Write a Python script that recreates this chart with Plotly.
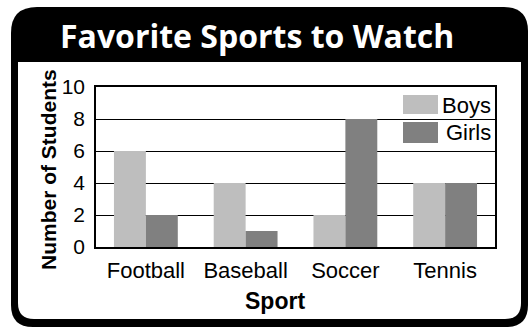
import plotly.graph_objects as go

categories = ["Football", "Baseball", "Soccer", "Tennis"]
boys = [6, 4, 2, 4]
girls = [2, 1, 8, 4]
series_names = ["Boys", "Girls"]
y_ticks = [0, 2, 4, 6, 8, 10]

BOYS_COLOR = "#bebebe"
GIRLS_COLOR = "#808080"
NARROW = "Liberation Sans Narrow, Liberation Sans, Arial, sans-serif"
TITLE_FONT = "Open Sans, Noto Sans, DejaVu Sans, sans-serif"

W, H = 528, 330
ML, MR, MT, MB = 96, 33, 87, 83
PW, PH = W - ML - MR, H - MT - MB


def X(px):
    return (px - ML) / PW


def Y(py):
    return (H - MB - py) / PH


def rrect(x0, y0, x1, y1, rtl, rtr, rbr, rbl):
    pts = []
    pts.append(f"M{X(x0 + rtl)},{Y(y0)}")
    pts.append(f"L{X(x1 - rtr)},{Y(y0)}")
    if rtr:
        pts.append(f"Q{X(x1)},{Y(y0)} {X(x1)},{Y(y0 + rtr)}")
    pts.append(f"L{X(x1)},{Y(y1 - rbr)}")
    if rbr:
        pts.append(f"Q{X(x1)},{Y(y1)} {X(x1 - rbr)},{Y(y1)}")
    pts.append(f"L{X(x0 + rbl)},{Y(y1)}")
    if rbl:
        pts.append(f"Q{X(x0)},{Y(y1)} {X(x0)},{Y(y1 - rbl)}")
    pts.append(f"L{X(x0)},{Y(y0 + rtl)}")
    if rtl:
        pts.append(f"Q{X(x0)},{Y(y0)} {X(x0 + rtl)},{Y(y0)}")
    pts.append("Z")
    return " ".join(pts)


fig = go.Figure()
fig.add_trace(go.Bar(x=categories, y=boys, name=series_names[0],
                     marker=dict(color=BOYS_COLOR, line=dict(width=0))))
fig.add_trace(go.Bar(x=categories, y=girls, name=series_names[1],
                     marker=dict(color=GIRLS_COLOR, line=dict(width=0))))

shapes = [
    dict(type="path", xref="paper", yref="paper", layer="below",
         path=rrect(11, 7, 528, 327, 26, 24, 22, 22),
         fillcolor="black", line=dict(width=0)),
    dict(type="path", xref="paper", yref="paper", layer="below",
         path=rrect(18, 62, 521, 319, 0, 0, 16, 16),
         fillcolor="white", line=dict(width=0)),
    # legend swatches
    dict(type="rect", xref="paper", yref="paper", layer="above",
         x0=X(403), x1=X(438), y0=Y(114), y1=Y(95),
         fillcolor=BOYS_COLOR, line=dict(width=0)),
    dict(type="rect", xref="paper", yref="paper", layer="above",
         x0=X(403), x1=X(438), y0=Y(143), y1=Y(122),
         fillcolor=GIRLS_COLOR, line=dict(width=0)),
]

annotations = [
    dict(text="<b>Favorite Sports to Watch</b>", xref="paper", yref="paper",
         x=X(257), y=Y(36), xanchor="center", yanchor="middle", showarrow=False,
         font=dict(family=TITLE_FONT, size=32, color="white")),
    dict(text="<b>Sport</b>", xref="paper", yref="paper",
         x=X(275), y=Y(301), xanchor="center", yanchor="middle", showarrow=False,
         font=dict(family=NARROW, size=23, color="black")),
    dict(text="<b>Number of Students</b>", xref="paper", yref="paper",
         x=X(48), y=Y(170), xanchor="center", yanchor="middle", showarrow=False,
         textangle=-90, font=dict(family=NARROW, size=21, color="black")),
    dict(text=series_names[0], xref="paper", yref="paper",
         x=X(493), y=Y(105), xanchor="right", yanchor="middle", showarrow=False,
         font=dict(family=NARROW, size=22, color="black")),
    dict(text=series_names[1], xref="paper", yref="paper",
         x=X(493), y=Y(132), xanchor="right", yanchor="middle", showarrow=False,
         font=dict(family=NARROW, size=22, color="black")),
]

fig.update_layout(
    width=W, height=H,
    margin=dict(l=ML, r=MR, t=MT, b=MB, pad=0),
    paper_bgcolor="white", plot_bgcolor="white",
    barmode="group", bargap=0.36, bargroupgap=0,
    showlegend=False,
    shapes=shapes, annotations=annotations,
)
fig.update_xaxes(
    type="category", automargin=False, tickangle=0,
    showline=True, mirror=True, linecolor="black", linewidth=1.5,
    showgrid=False, ticks="", ticklabelstandoff=3,
    tickfont=dict(family=NARROW, size=22, color="black"),
)
fig.update_yaxes(
    range=[0, 10], tickvals=y_ticks, automargin=False,
    showline=True, mirror=True, linecolor="black", linewidth=1.5,
    showgrid=True, gridcolor="black", gridwidth=1.3,
    zeroline=False, ticks="", ticklabelstandoff=5,
    tickfont=dict(family=NARROW, size=21, color="black"),
)

fig.write_html(
    "out.html",
    config={"displayModeBar": False},
    post_script="document.body.style.margin='0';document.body.style.overflow='hidden';",
)
